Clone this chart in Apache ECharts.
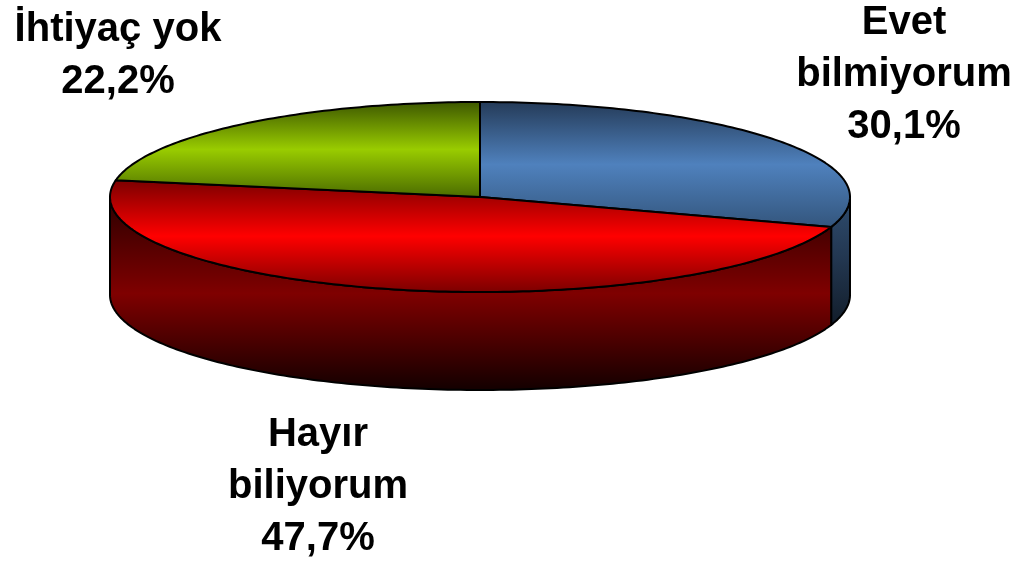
<!DOCTYPE html>
<html>
<head>
<meta charset="utf-8">
<script src="https://cdn.jsdelivr.net/npm/echarts@6/dist/echarts.min.js"></script>
<style>
  html, body { margin: 0; padding: 0; background: #fff; }
  #chart { width: 1019px; height: 562px; }
</style>
</head>
<body>
<div id="chart"></div>
<script>
// data
const names = ['Evet\nbilmiyorum', 'Hayır\nbiliyorum', 'İhtiyaç yok'];
const values = [30.1, 47.7, 22.2];

// layout / styles
const labelPos = [[904, 75], [318, 487], [118, 56]];
const topColors = [
  ['#243a57', '#4f81bd', '#33557c'],
  ['#7a0000', '#ff0000', '#7a0000'],
  ['#3c5600', '#99cc00', '#4a6a00']
];
const wallColors = [
  ['#2f4d70', '#22364f', '#121d2a'],
  ['#2a0000', '#7f0000', '#120000'],
  ['#3c5600', '#5a7a00', '#1e2c00']
];

const myChart = echarts.init(document.getElementById('chart'));
const total = values.reduce((a, b) => a + b, 0);
const startDeg = [];
let acc = 0;
values.forEach(v => { startDeg.push(90 - acc / total * 360); acc += v; });

function fmt(v) {
  return v.toFixed(1).replace('.', ',') + '%';
}

function renderItem(params, api) {
  const i = params.dataIndex;
  const cx = 480, cy = 197, rx = 370, ry = 95, depth = 98;
  const a0 = startDeg[i];
  const a1 = a0 - api.value(0) / total * 360;
  const pt = (deg, dy) => {
    const r = deg * Math.PI / 180;
    return [cx + rx * Math.cos(r), cy - ry * Math.sin(r) + (dy || 0)];
  };
  const grad = (c) => ({
    type: 'linear', x: 0, y: 0, x2: 0, y2: 1,
    colorStops: [{ offset: 0, color: c[0] }, { offset: 0.5, color: c[1] }, { offset: 1, color: c[2] }]
  });
  const children = [];

  // side wall (front half only)
  [-360, 0, 360].forEach(k => {
    const lo = Math.max(a1, -180 + k), hi = Math.min(a0, k);
    if (hi - lo <= 0.01) return;
    const pts = [];
    for (let d = hi; d > lo; d -= 1) pts.push(pt(d));
    pts.push(pt(lo));
    for (let d = lo; d < hi; d += 1) pts.push(pt(d, depth));
    pts.push(pt(hi, depth));
    children.push({
      type: 'polygon',
      shape: { points: pts },
      style: { fill: grad(wallColors[i]), stroke: '#000', lineWidth: 2, lineJoin: 'round' },
      z2: 1
    });
  });

  // top face
  const top = [[cx, cy]];
  for (let d = a0; d > a1; d -= 1) top.push(pt(d));
  top.push(pt(a1));
  children.push({
    type: 'polygon',
    shape: { points: top },
    style: { fill: grad(topColors[i]), stroke: '#000', lineWidth: 2, lineJoin: 'round' },
    z2: 2
  });

  // label
  children.push({
    type: 'text',
    x: labelPos[i][0],
    y: labelPos[i][1],
    style: {
      text: names[i] + '\n' + fmt(api.value(0)),
      font: 'bold 40px "Liberation Sans", Arial, sans-serif',
      fill: '#000',
      align: 'center',
      verticalAlign: 'middle',
      lineHeight: 52
    },
    z2: 3
  });

  return { type: 'group', children: children };
}

const option = {
  backgroundColor: '#ffffff',
  animation: false,
  series: [{
    type: 'custom',
    coordinateSystem: 'none',
    renderItem: renderItem,
    data: values.map((v, i) => ({ name: names[i], value: v }))
  }]
};
myChart.setOption(option);
</script>
</body>
</html>
